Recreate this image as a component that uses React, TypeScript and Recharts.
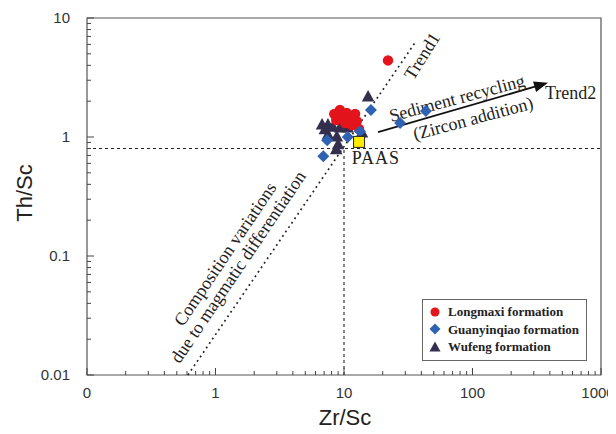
import React from "react";
import {
  ScatterChart,
  Scatter,
  XAxis,
  YAxis,
  ReferenceLine,
  ReferenceArea,
  ReferenceDot,
  Legend,
} from "recharts";

// Zr/Sc vs Th/Sc
const longmaxi = [
  { x: 9.3, y: 1.69 },
  { x: 8.4, y: 1.56 },
  { x: 10.5, y: 1.59 },
  { x: 12.2, y: 1.56 },
  { x: 11.3, y: 1.44 },
  { x: 9.6, y: 1.44 },
  { x: 8.7, y: 1.39 },
  { x: 10.2, y: 1.31 },
  { x: 12.6, y: 1.36 },
  { x: 11.5, y: 1.26 },
  { x: 13.1, y: 1.17 },
  { x: 22, y: 4.4 },
];

const guanyinqiao = [
  { x: 6.9, y: 0.69 },
  { x: 7.4, y: 0.94 },
  { x: 10.7, y: 1.0 },
  { x: 13.3, y: 1.12 },
  { x: 16.2, y: 1.69 },
  { x: 27.3, y: 1.31 },
  { x: 43.4, y: 1.65 },
];

const wufeng = [
  { x: 15.4, y: 2.17 },
  { x: 6.75, y: 1.26 },
  { x: 7.5, y: 1.26 },
  { x: 8.2, y: 1.21 },
  { x: 7.1, y: 1.15 },
  { x: 9.3, y: 1.19 },
  { x: 10.7, y: 1.19 },
  { x: 13.8, y: 1.08 },
  { x: 7.5, y: 1.04 },
  { x: 8.8, y: 1.0 },
  { x: 9.0, y: 0.86 },
  { x: 8.7, y: 0.78 },
];

const paas = [{ x: 13.1, y: 0.91 }];

const xTicks = [
  0.1, 0.2, 0.3, 0.4, 0.5, 0.6, 0.7, 0.8, 0.9,
  1, 2, 3, 4, 5, 6, 7, 8, 9,
  10, 20, 30, 40, 50, 60, 70, 80, 90,
  100, 200, 300, 400, 500, 600, 700, 800, 900, 1000,
];
const xMajor = [0.1, 1, 10, 100, 1000];
const xTickLabels = ["0", "1", "10", "100", "1000"];

const yTicks = [
  0.01, 0.02, 0.03, 0.04, 0.05, 0.06, 0.07, 0.08, 0.09,
  0.1, 0.2, 0.3, 0.4, 0.5, 0.6, 0.7, 0.8, 0.9,
  1, 2, 3, 4, 5, 6, 7, 8, 9, 10,
];
const yMajor = [0.01, 0.1, 1, 10];
const yTickLabels = ["0.01", "0.1", "1", "10"];

// reference lines
const paasThSc = 0.8;
const paasZrSc = 10;
const trend1 = [
  { x: 0.61, y: 0.01 },
  { x: 35.7, y: 6.2 },
];
const trend2 = [
  { x: 18.4, y: 1.1 },
  { x: 387, y: 2.85 },
];

const notes = [
  { text: "Trend1", x: 40.5, y: 4.8, angle: -58, anchor: "middle" },
  { text: "Sediment recycling", x: 75.7, y: 2.12, angle: -15, anchor: "middle" },
  { text: "(Zircon addition)", x: 101, y: 1.43, angle: -15, anchor: "middle" },
  { text: "Trend2", x: 366, y: 2.34, angle: 0, anchor: "start" },
  { text: "PAAS", x: 17.7, y: 0.667, angle: 0, anchor: "middle" },
  { text: "Composition variations", x: 1.19, y: 0.104, angle: -56, anchor: "middle" },
  { text: "due to magmatic differentiation", x: 1.5, y: 0.081, angle: -56, anchor: "middle" },
];

const RED = "#e3141b";
const BLUE = "#2f62b3";
const NAVY = "#342f4e";
const SERIF = "'Liberation Serif', 'Times New Roman', serif";
const SANS = "'Liberation Sans', Arial, sans-serif";

function XTick({ x, y, payload }: any) {
  const i = xMajor.indexOf(payload.value);
  const shift = i === xMajor.length - 1 ? -3 : 0;
  return (
    <g>
      <line x1={x} y1={y} x2={x} y2={y - (i >= 0 ? 7 : 4)} stroke="#444" />
      {i >= 0 && (
        <text x={x + shift} y={y + 23} textAnchor="middle" fontSize={15} fill="#333" fontFamily={SANS}>
          {xTickLabels[i]}
        </text>
      )}
    </g>
  );
}

function YTick({ x, y, payload }: any) {
  const i = yMajor.indexOf(payload.value);
  return (
    <g>
      <line x1={x} y1={y} x2={x + (i >= 0 ? 7 : 4)} y2={y} stroke="#444" />
      {i >= 0 && (
        <text x={x - 17} y={y + 5} textAnchor="end" fontSize={15} fill="#333" fontFamily={SANS}>
          {yTickLabels[i]}
        </text>
      )}
    </g>
  );
}

const circle = (p: any) => <circle cx={p.cx} cy={p.cy} r={5.2} fill={RED} />;
const diamond = (p: any) => (
  <polygon
    points={`${p.cx},${p.cy - 6} ${p.cx + 6},${p.cy} ${p.cx},${p.cy + 6} ${p.cx - 6},${p.cy}`}
    fill={BLUE}
  />
);
const triangle = (p: any) => (
  <polygon
    points={`${p.cx},${p.cy - 7} ${p.cx + 6.3},${p.cy + 4.5} ${p.cx - 6.3},${p.cy + 4.5}`}
    fill={NAVY}
  />
);
const square = (p: any) => (
  <rect x={p.cx - 5.5} y={p.cy - 5.5} width={11} height={11} fill="#ffec00" stroke="#222" strokeWidth={1} />
);

function Arrow(p: any) {
  const { x1, y1, x2, y2 } = p;
  const a = Math.atan2(y2 - y1, x2 - x1);
  const L = 14;
  const W = 5.5;
  const bx = x2 - L * Math.cos(a);
  const by = y2 - L * Math.sin(a);
  const px = -Math.sin(a) * W;
  const py = Math.cos(a) * W;
  return (
    <g>
      <line x1={x1} y1={y1} x2={bx + 2 * Math.cos(a)} y2={by + 2 * Math.sin(a)} stroke="#111" strokeWidth={1.8} />
      <polygon points={`${x2},${y2} ${bx + px},${by + py} ${bx - px},${by - py}`} fill="#111" />
    </g>
  );
}

function LegendBox() {
  const rows = [
    { label: "Longmaxi formation", shape: <circle cx={6} cy={6} r={4.5} fill={RED} /> },
    { label: "Guanyinqiao formation", shape: <polygon points="6,0.5 11.5,6 6,11.5 0.5,6" fill={BLUE} /> },
    { label: "Wufeng formation", shape: <polygon points="6,0.5 11.5,10.5 0.5,10.5" fill={NAVY} /> },
  ];
  return (
    <div
      style={{
        boxSizing: "border-box",
        width: 165,
        border: "1px solid #666",
        background: "#fff",
        padding: "3px 0 4px 6px",
        fontFamily: SERIF,
        fontWeight: "bold",
        fontSize: 13,
        color: "#222",
        lineHeight: "17.5px",
        whiteSpace: "nowrap",
      }}
    >
      {rows.map((r) => (
        <div key={r.label} style={{ display: "flex", alignItems: "center" }}>
          <svg width={12} height={12} style={{ marginRight: 7 }}>
            {r.shape}
          </svg>
          {r.label}
        </div>
      ))}
    </div>
  );
}

export default function App() {
  return (
    <div style={{ position: "relative", width: 608, height: 426, background: "#fff" }}>
      <ScatterChart width={608} height={426} margin={{ top: 10, right: 15, bottom: 29, left: 0 }}>
        <XAxis
          type="number"
          dataKey="x"
          scale="log"
          domain={[0.1, 1000]}
          ticks={xTicks}
          interval={0}
          allowDataOverflow
          height={30}
          tickSize={0}
          tickMargin={0}
          tickLine={false}
          axisLine={false}
          tick={(p: any) => <XTick {...p} />}
        />
        <YAxis
          type="number"
          dataKey="y"
          scale="log"
          domain={[0.01, 10]}
          ticks={yTicks}
          interval={0}
          allowDataOverflow
          width={79}
          tickSize={0}
          tickMargin={0}
          tickLine={false}
          axisLine={false}
          tick={(p: any) => <YTick {...p} />}
        />
        <ReferenceArea x1={0.1} x2={1000} y1={0.01} y2={10} fill="none" stroke="#555" strokeWidth={1.2} />
        <ReferenceLine
          segment={[{ x: 0.1, y: paasThSc }, { x: 1000, y: paasThSc }]}
          stroke="#222"
          strokeWidth={1.1}
          strokeDasharray="3 3"
        />
        <ReferenceLine
          segment={[{ x: paasZrSc, y: 0.01 }, { x: paasZrSc, y: paasThSc }]}
          stroke="#222"
          strokeWidth={1.1}
          strokeDasharray="3 3"
        />
        <ReferenceLine segment={trend1} stroke="#222" strokeWidth={1.7} strokeDasharray="1.8 3.6" />
        <ReferenceLine segment={trend2} shape={(p: any) => <Arrow {...p} />} />
        {notes.map((n) => (
          <ReferenceDot
            key={n.text}
            x={n.x}
            y={n.y}
            r={0}
            shape={(p: any) => (
              <text
                x={p.cx}
                y={p.cy}
                transform={`rotate(${n.angle} ${p.cx} ${p.cy})`}
                textAnchor={n.anchor}
                dominantBaseline="central"
                fontFamily={SERIF}
                fontSize={18}
                fill="#222"
                letterSpacing={n.text === "PAAS" ? 1 : 0}
              >
                {n.text}
              </text>
            )}
          />
        ))}
        <Scatter name="Wufeng formation" data={wufeng} shape={triangle} isAnimationActive={false} />
        <Scatter name="Longmaxi formation" data={longmaxi} shape={circle} isAnimationActive={false} />
        <Scatter name="Guanyinqiao formation" data={guanyinqiao} shape={diamond} isAnimationActive={false} />
        <Scatter name="PAAS" data={paas} shape={square} isAnimationActive={false} />
        <Legend
          layout="vertical"
          align="center"
          verticalAlign="middle"
          content={() => <LegendBox />}
          wrapperStyle={{ left: 414, top: 291, width: 165 }}
        />
      </ScatterChart>
      <div
        style={{
          position: "absolute",
          left: 337,
          top: 410,
          fontFamily: SANS,
          fontSize: 22,
          color: "#222",
          transform: "translate(-50%, -50%)",
          whiteSpace: "nowrap",
        }}
      >
        Zr/Sc
      </div>
      <div
        style={{
          position: "absolute",
          left: 17,
          top: 185,
          fontFamily: SANS,
          fontSize: 22,
          color: "#222",
          transform: "translate(-50%, -50%) rotate(-90deg)",
          whiteSpace: "nowrap",
        }}
      >
        Th/Sc
      </div>
    </div>
  );
}
